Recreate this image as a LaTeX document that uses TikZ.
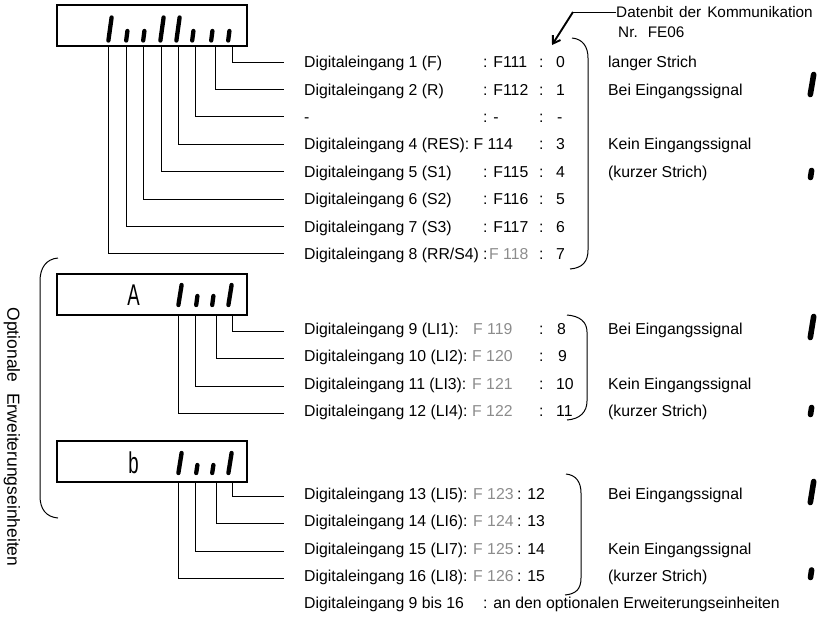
\documentclass[tikz,border=0pt]{standalone}
\usepackage{fontspec}
\setmainfont{Liberation Sans}
\usetikzlibrary{arrows.meta}
\begin{document}
\begin{tikzpicture}[x=1pt,y=-1pt,
  lbl/.style={anchor=base west, inner sep=0pt, font=\fontsize{15.8}{18}\selectfont},
  sev/.style={lbl, text=black!45},
  conn/.style={line width=1pt},
  brk/.style={line width=1pt},
  dispbox/.style={draw, line width=1.3pt, minimum width=190pt, minimum height=41pt, inner sep=0pt},
  lseg/.style={line width=4.3pt, line cap=round},
  bigseg/.style={line width=5.6pt, line cap=round},
  dchar/.style={anchor=base, inner sep=0pt, font=\fontsize{30}{30}\selectfont, xscale=0.62}]
\useasboundingbox (0,0) rectangle (838,622);

% ---------- top display ----------
\node[dispbox] (d1) at (152,25.5) {};
\foreach \x in {110,162,178} \draw[lseg] (\x-1.6,40.5) -- (\x+1.6,17.5);
\foreach \x in {127,144,193,212,229} \draw[lseg] (\x-0.8,40.5) -- (\x+0.4,31);
\foreach \bx/\y [count=\i from 0] in {232/62,215/89.4,195/116.8,178/144.2,161/171.6,143/199,126/226.4,108/253.8}{
  \coordinate (t\i) at (\bx,46);
  \coordinate (e\i) at (284,\y);
  \draw[conn] (t\i) |- (e\i);
}
\node[lbl] (l0) at (304,67.6) {Digitaleingang 1 (F)};
\node[lbl] (c0) at (483,67.6) {: F111};
\node[lbl] (k0) at (539,67.6) {:};
\node[lbl] (n0) at (556,67.6) {0};
\node[lbl] (l1) at (304,95) {Digitaleingang 2 (R)};
\node[lbl] (c1) at (483,95) {: F112};
\node[lbl] (k1) at (539,95) {:};
\node[lbl] (n1) at (556,95) {1};
\node[lbl] (l2) at (304,122.4) {-};
\node[lbl] (c2) at (483,122.4) {: -};
\node[lbl] (k2) at (539,122.4) {:};
\node[lbl] (n2) at (557,122.4) {-};
\node[lbl] (l3) at (304,149.8) {Digitaleingang 4 (RES): F 114};
\node[lbl] (k3) at (539,149.8) {:};
\node[lbl] (n3) at (556,149.8) {3};
\node[lbl] (l4) at (304,177.2) {Digitaleingang 5 (S1)};
\node[lbl] (c4) at (483,177.2) {: F115};
\node[lbl] (k4) at (539,177.2) {:};
\node[lbl] (n4) at (556,177.2) {4};
\node[lbl] (l5) at (304,204.6) {Digitaleingang 6 (S2)};
\node[lbl] (c5) at (483,204.6) {: F116};
\node[lbl] (k5) at (539,204.6) {:};
\node[lbl] (n5) at (556,204.6) {5};
\node[lbl] (l6) at (304,232) {Digitaleingang 7 (S3)};
\node[lbl] (c6) at (483,232) {: F117};
\node[lbl] (k6) at (539,232) {:};
\node[lbl] (n6) at (556,232) {6};
\node[lbl] (l7) at (304,259.4) {Digitaleingang 8 (RR/S4)};
\node[lbl] (c7) at (483,259.4) {:};
\node[sev] (s7) at (489,259.4) {F 118};
\node[lbl] (k7) at (539,259.4) {:};
\node[lbl] (n7) at (556,259.4) {7};

\draw[brk] (572,38) .. controls (583,39) and (588,47) .. (588,58) -- (588,250) .. controls (588,261) and (583,268) .. (570,269);

% data bit label and arrow
\node[lbl, font=\fontsize{15.3}{18}\selectfont] (dat) at (616,17.5) {Datenbit\hspace{6pt}der\hspace{6pt}Kommunikation};
\node[lbl, font=\fontsize{15.3}{18}\selectfont] (nr) at (618,37.5) {Nr.\hspace{10pt}FE06};
\coordinate (acorner) at (573,12);
\coordinate (atip) at (552,45);
\draw[conn] (dat.west |- acorner) -- (acorner);
\draw[line width=1.9pt, -{Straight Barb[length=7pt,width=9pt]}] (acorner) -- (atip);

% right explanations (top)
\node[lbl] (r1) at (608,67.6) {langer Strich};
\node[lbl] (r2) at (608,95) {Bei Eingangssignal};
\node[lbl] (r3) at (608,149.8) {Kein Eingangssignal};
\node[lbl] (r4) at (608,177.2) {(kurzer Strich)};
\draw[bigseg] (810.3,94.5) -- (813.7,74.5);
\draw[bigseg] (810.5,177.5) -- (811.6,170.5);

% ---------- middle display ----------
\node[dispbox] (d2) at (152,294.5) {};
\node[dchar] (ca) at (133.5,305) {A};
\foreach \x in {180,230} \draw[lseg] (\x-1.6,305) -- (\x+1.6,285);
\foreach \x in {197,213} \draw[lseg] (\x-0.8,305) -- (\x+0.4,296);
\foreach \bx/\y [count=\i from 8] in {232/331,216/358,195/386,178/413}{
  \coordinate (t\i) at (\bx,315);
  \coordinate (e\i) at (284,\y);
  \draw[conn] (t\i) |- (e\i);
}
\node[lbl] (l8) at (304,334.5) {Digitaleingang 9 (LI1):};
\node[sev] (s8) at (473,334.5) {F 119};
\node[lbl] (k8) at (539,334.5) {:};
\node[lbl] (n8) at (557,334.5) {8};
\node[lbl] (l9) at (304,361.5) {Digitaleingang 10 (LI2):};
\node[sev] (s9) at (472,361.5) {F 120};
\node[lbl] (k9) at (539,361.5) {:};
\node[lbl] (n9) at (558,361.5) {9};
\node[lbl] (l10) at (304,389.5) {Digitaleingang 11 (LI3):};
\node[sev] (s10) at (472,389.5) {F 121};
\node[lbl] (k10) at (539,389.5) {:};
\node[lbl] (n10) at (556,389.5) {10};
\node[lbl] (l11) at (304,416.5) {Digitaleingang 12 (LI4):};
\node[sev] (s11) at (472,416.5) {F 122};
\node[lbl] (k11) at (539,416.5) {:};
\node[lbl] (n11) at (556,416.5) {11};
\draw[brk] (567,315) .. controls (580,316) and (587,322) .. (587,332) -- (587,401) .. controls (587,412) and (580,419) .. (567,420);

\node[lbl] (r5) at (608,334.5) {Bei Eingangssignal};
\node[lbl] (r6) at (608,389.5) {Kein Eingangssignal};
\node[lbl] (r7) at (608,416.5) {(kurzer Strich)};
\draw[bigseg] (810.3,337.5) -- (813.7,316.5);
\draw[bigseg] (810.5,414.5) -- (811.6,407.5);

% ---------- bottom display ----------
\node[dispbox] (d3) at (152,461.5) {};
\node[dchar] (cb) at (133.5,473) {b};
\foreach \x in {180,230} \draw[lseg] (\x-1.6,473) -- (\x+1.6,453);
\foreach \x in {197,213} \draw[lseg] (\x-0.8,473) -- (\x+0.4,465);
\foreach \bx/\y [count=\i from 12] in {232/496,216/523,195/551,178/578}{
  \coordinate (t\i) at (\bx,482);
  \coordinate (e\i) at (284,\y);
  \draw[conn] (t\i) |- (e\i);
}
\node[lbl] (l12) at (304,499.5) {Digitaleingang 13 (LI5):};
\node[sev] (s12) at (473,499.5) {F 123};
\node[lbl] (k12) at (517,499.5) {: 12};
\node[lbl] (l13) at (304,526.5) {Digitaleingang 14 (LI6):};
\node[sev] (s13) at (473,526.5) {F 124};
\node[lbl] (k13) at (517,526.5) {: 13};
\node[lbl] (l14) at (304,554.5) {Digitaleingang 15 (LI7):};
\node[sev] (s14) at (473,554.5) {F 125};
\node[lbl] (k14) at (517,554.5) {: 14};
\node[lbl] (l15) at (304,581.5) {Digitaleingang 16 (LI8):};
\node[sev] (s15) at (473,581.5) {F 126};
\node[lbl] (k15) at (517,581.5) {: 15};
\draw[brk] (566,474) .. controls (576,475) and (581,482) .. (581,493) -- (581,578) .. controls (581,589) and (576,594) .. (565,595);

\node[lbl] (r8) at (608,499.5) {Bei Eingangssignal};
\node[lbl] (r9) at (608,554.5) {Kein Eingangssignal};
\node[lbl] (r10) at (608,581.5) {(kurzer Strich)};
\draw[bigseg] (810.3,502.5) -- (813.7,481.5);
\draw[bigseg] (810.5,577.5) -- (811.6,570);

\node[lbl] (f1) at (304,608.6) {Digitaleingang 9 bis 16};
\node[lbl] (f2) at (483,608.6) {: an den optionalen Erweiterungseinheiten};

% ---------- left bracket ----------
\draw[brk] (58,258) .. controls (46,259) and (40,268) .. (40,281) -- (40,496) .. controls (40,509) and (46,517) .. (58,518);
\node[rotate=-90, inner sep=0pt, font=\fontsize{17.5}{20}\selectfont] (opt) at (12,437) {Optionale\hspace{6pt} Erweiterungseinheiten};
\end{tikzpicture}
\end{document}
